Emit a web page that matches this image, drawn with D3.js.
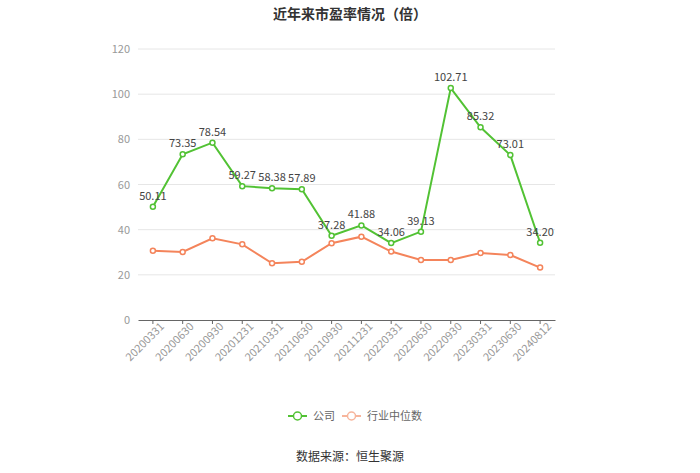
<!DOCTYPE html>
<html><head><meta charset="utf-8">
<script src="https://cdn.jsdelivr.net/npm/d3@7/dist/d3.min.js"></script>
<style>body{margin:0;background:#fff;font-family:"Noto Sans CJK SC","Noto Sans",sans-serif;}</style>
</head><body><svg id="c" width="700" height="473"></svg>
<script>
const categories = ["20200331","20200630","20200930","20201231","20210331","20210630","20210930","20211231","20220331","20220630","20220930","20230331","20230630","20240812"];
const companyPE = [50.11,73.35,78.54,59.27,58.38,57.89,37.28,41.88,34.06,39.13,102.71,85.32,73.01,34.20];
const industryPE = [30.7,30.1,36.2,33.5,25.1,25.8,34.0,36.9,30.3,26.6,26.6,29.7,28.8,23.2];
const yTicks = [0,20,40,60,80,100,120];
const seriesNames = ["公司","行业中位数"];
const colors = ["#52c234","#f4845b"];
const legendColors = ["#52c234","#f7b59c"];

(function(){
const svg = d3.select("#c");
const font = '"Noto Sans CJK SC","Noto Sans",sans-serif';
const pL = 138, pR = 555, pT = 49, pB = 320;
const x = d3.scaleBand().domain(categories).range([pL, pR]);
const y = d3.scaleLinear().domain([0,120]).range([pB, pT]);
const cx = d => x(d) + x.bandwidth()/2;

svg.append("text").attr("x",350).attr("y",19).attr("text-anchor","middle")
  .attr("font-size",14).attr("font-weight","bold").attr("fill","#333").attr("font-family",font)
  .text("近年来市盈率情况（倍）");

svg.append("g").selectAll("line").data(yTicks.filter(t=>t>0)).join("line")
  .attr("x1",pL).attr("x2",pR).attr("y1",d=>y(d)).attr("y2",d=>y(d))
  .attr("stroke","#e6e6e6").attr("stroke-width",1);

const ya = svg.append("g").attr("transform",`translate(${pL},0)`)
  .call(d3.axisLeft(y).tickValues(yTicks).tickSize(0).tickPadding(8));
ya.select(".domain").remove();
ya.selectAll("text").attr("fill","#999").attr("font-size",11).attr("font-family",font);

const xa = svg.append("g").attr("transform",`translate(0,${pB})`)
  .call(d3.axisBottom(x).tickSize(4).tickSizeOuter(0));
xa.select(".domain").attr("stroke","#666");
xa.selectAll(".tick line").attr("stroke","#666");
xa.selectAll("text").attr("fill","#999").attr("font-size",11).attr("font-family",font)
  .attr("text-anchor","end").attr("dx","0.3em").attr("dy","0.6em")
  .attr("transform","rotate(-45)");

const line = d3.line().x((d,i)=>cx(categories[i])).y(d=>y(d));
[industryPE, companyPE].forEach((data, k) => {
  const idx = k===0 ? 1 : 0;
  svg.append("path").datum(data).attr("d",line).attr("fill","none")
    .attr("stroke",colors[idx]).attr("stroke-width",2);
  svg.append("g").selectAll("circle").data(data).join("circle")
    .attr("cx",(d,i)=>cx(categories[i])).attr("cy",d=>y(d)).attr("r",2.5)
    .attr("fill","#fff").attr("stroke",colors[idx]).attr("stroke-width",1.5);
});

svg.append("g").selectAll("text").data(companyPE).join("text")
  .attr("x",(d,i)=>cx(categories[i])).attr("y",d=>y(d)-7)
  .attr("text-anchor","middle").attr("font-size",11).attr("fill","#444").attr("font-family",font)
  .text(d=>d.toFixed(2));

const lx = [288, 342];
seriesNames.forEach((n,i)=>{
  const g = svg.append("g").attr("transform",`translate(${lx[i]},416)`);
  g.append("line").attr("x1",0).attr("x2",19).attr("y1",0).attr("y2",0).attr("stroke",legendColors[i]).attr("stroke-width",2);
  g.append("circle").attr("cx",9.5).attr("cy",0).attr("r",4).attr("fill","#fff").attr("stroke",legendColors[i]).attr("stroke-width",1.5);
  g.append("text").attr("x",25).attr("y",4).attr("font-size",11).attr("fill","#666").attr("font-family",font).text(n);
});

svg.append("text").attr("x",350).attr("y",461).attr("text-anchor","middle")
  .attr("font-size",12).attr("fill","#333").attr("font-family",font).text("数据来源：恒生聚源");
})();
</script></body></html>
